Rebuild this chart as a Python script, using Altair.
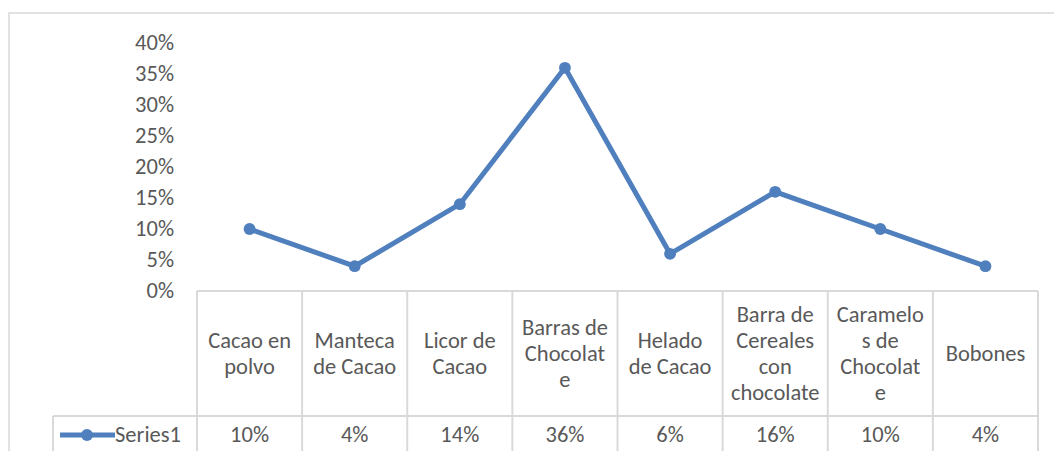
import altair as alt
import pandas as pd

# ---- data -------------------------------------------------------------
categories = ["Cacao en polvo", "Manteca de Cacao", "Licor de Cacao",
              "Barras de Chocolate", "Helado de Cacao",
              "Barra de Cereales con chocolate", "Caramelos de Chocolate",
              "Bobones"]
header_lines = ["Cacao en\npolvo", "Manteca\nde Cacao", "Licor de\nCacao",
                "Barras de\nChocolat\ne", "Helado\nde Cacao",
                "Barra de\nCereales\ncon\nchocolate", "Caramelo\ns de\nChocolat\ne",
                "Bobones"]
values = [0.10, 0.04, 0.14, 0.36, 0.06, 0.16, 0.10, 0.04]
y_ticks = [0, 0.05, 0.10, 0.15, 0.20, 0.25, 0.30, 0.35, 0.40]
series_name = "Series1"

df = pd.DataFrame({"cat": categories, "header": header_lines, "value": values})
df["nlines"] = [h.count("\n") + 1 for h in header_lines]
ticks_df = pd.DataFrame({"value": y_ticks})

# ---- layout / style ---------------------------------------------------
W, H = 841, 248          # line plot area
HEAD_BOTTOM = 373        # bottom of header row (plot coords)
TABLE_BOTTOM = 411       # bottom of value row
LEG_LEFT = -144          # left of legend cell
STEP = W / len(categories)
BLUE = "#4F7FBD"
GRID = "#D9D9D9"
TXT = "#595959"
FONT = "Carlito, Calibri, Lato, sans-serif"
FS = 22.5
LH = 26

X = alt.X("cat:N", sort=None, scale=alt.Scale(type="point", padding=0.5), axis=None)
Y = alt.Y("value:Q", scale=alt.Scale(domain=[0, 0.4], nice=False), axis=None)

base = alt.Chart(df)
one = alt.Chart(pd.DataFrame({"k": [0]}))

border = one.mark_rect(fill="white", stroke=GRID, strokeWidth=1.5).encode(
    x=alt.value(-188), x2=alt.value(W + 60), y=alt.value(-30), y2=alt.value(H + 220))

# y tick labels, placed through the y scale
ylabels = alt.Chart(ticks_df).mark_text(
    fontSize=FS, font=FONT, color=TXT, align="right", baseline="middle"
).encode(x=alt.value(-23), y=Y, text=alt.Text("value:Q", format=".0%"))

line = base.mark_line(color=BLUE, strokeWidth=5).encode(x=X, y=Y)
pts = base.mark_point(filled=True, color=BLUE, size=140, opacity=1).encode(x=X, y=Y)

vrules = base.mark_rule(color=GRID, strokeWidth=2, xOffset=-STEP / 2).encode(
    x=X, y=alt.value(H), y2=alt.value(TABLE_BOTTOM))
vlast = one.mark_rule(color=GRID, strokeWidth=2).encode(
    x=alt.value(W), y=alt.value(H), y2=alt.value(TABLE_BOTTOM))
vleg = one.mark_rule(color=GRID, strokeWidth=2).encode(
    x=alt.value(LEG_LEFT), y=alt.value(HEAD_BOTTOM), y2=alt.value(TABLE_BOTTOM))
htop = one.mark_rule(color=GRID, strokeWidth=2).encode(
    x=alt.value(0), x2=alt.value(W), y=alt.value(H), y2=alt.value(H))
hmid = one.mark_rule(color=GRID, strokeWidth=2).encode(
    x=alt.value(LEG_LEFT), x2=alt.value(W), y=alt.value(HEAD_BOTTOM), y2=alt.value(HEAD_BOTTOM))
hbot = one.mark_rule(color=GRID, strokeWidth=2).encode(
    x=alt.value(LEG_LEFT), x2=alt.value(W), y=alt.value(TABLE_BOTTOM), y2=alt.value(TABLE_BOTTOM))

head_layers = []
for n in sorted(set(df["nlines"])):
    head_layers.append(
        base.transform_filter(alt.datum.nlines == int(n)).mark_text(
            lineBreak="\n", lineHeight=LH, fontSize=FS, font=FONT, color=TXT,
            baseline="middle", align="center", dy=-(int(n) - 1) * LH / 2
        ).encode(x=X, y=alt.value((H + HEAD_BOTTOM) / 2), text="header:N")
    )

val_txt = base.mark_text(fontSize=FS, font=FONT, color=TXT, baseline="middle",
                         align="center").encode(
    x=X, y=alt.value((HEAD_BOTTOM + TABLE_BOTTOM) / 2),
    text=alt.Text("value:Q", format=".0%"))

leg_y = (HEAD_BOTTOM + TABLE_BOTTOM) / 2
leg_line = one.mark_rule(color=BLUE, strokeWidth=5).encode(
    x=alt.value(LEG_LEFT + 7), x2=alt.value(LEG_LEFT + 62),
    y=alt.value(leg_y), y2=alt.value(leg_y))
leg_pt = one.mark_point(filled=True, color=BLUE, size=140, opacity=1).encode(
    x=alt.value(LEG_LEFT + 34), y=alt.value(leg_y))
leg_txt = alt.Chart(pd.DataFrame({"s": [series_name]})).mark_text(
    fontSize=FS, font=FONT, color=TXT, baseline="middle", align="left").encode(
    x=alt.value(LEG_LEFT + 62), y=alt.value(leg_y), text="s:N")

chart = alt.layer(
    border, ylabels, vrules, vlast, vleg, htop, hmid, hbot, *head_layers, val_txt,
    leg_line, leg_pt, leg_txt, line, pts
).properties(
    width=W, height=H,
    padding={"left": 189, "top": 35, "right": 16, "bottom": 160},
    autosize="none",
).configure_view(strokeWidth=0, stroke="transparent").configure(background="white")

chart.save("out.html", embed_options={"renderer": "svg", "actions": False})
